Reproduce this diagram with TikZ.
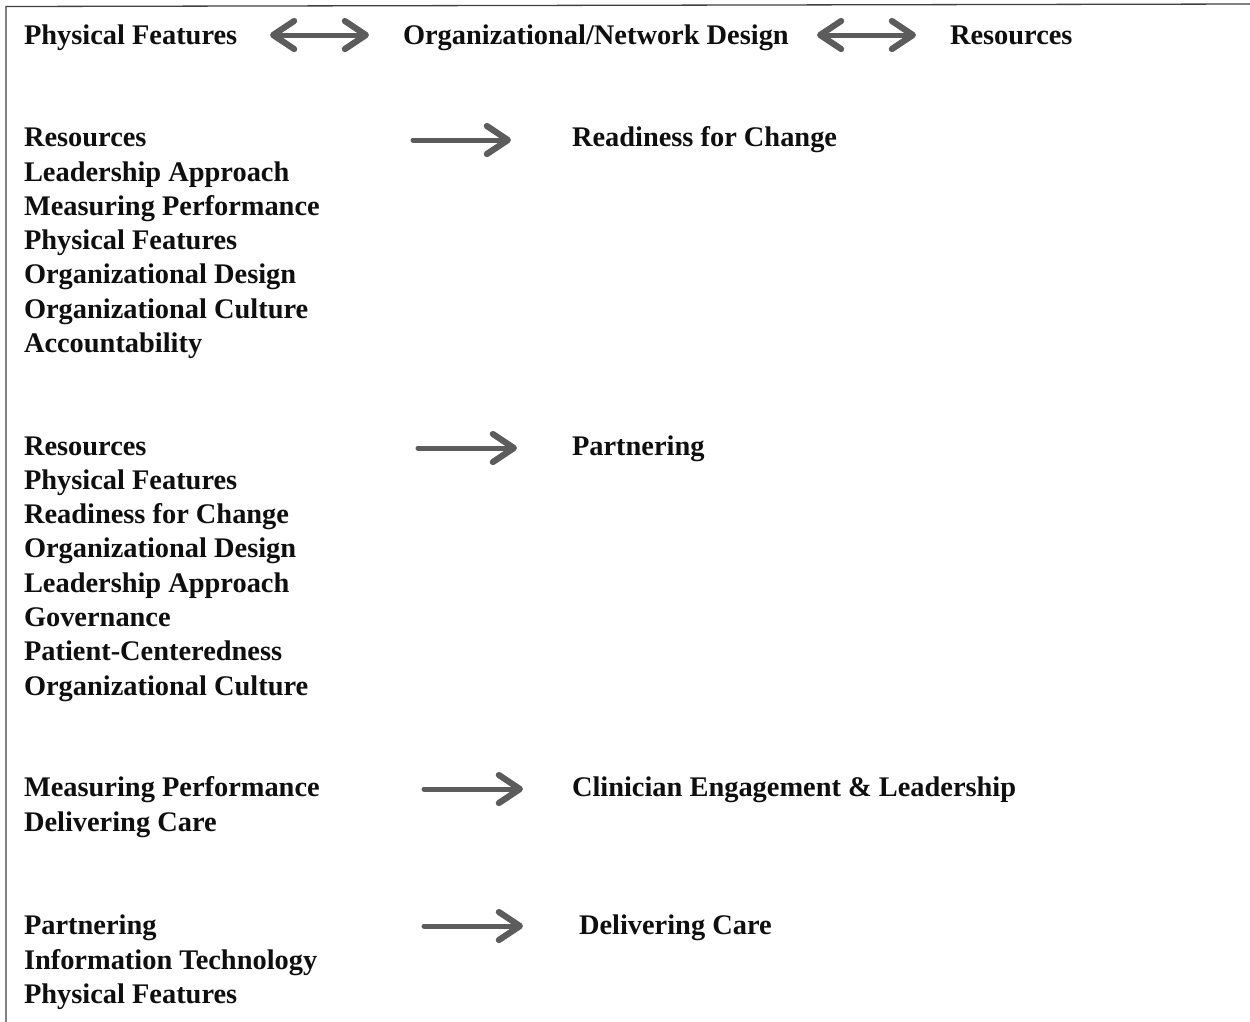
\documentclass[tikz,border=0pt]{standalone}
\usepackage{fontspec}
\setmainfont{Liberation Serif}
\usetikzlibrary{arrows.meta}
\tikzset{headtip/.tip={Straight Barb[length=21pt,width=28pt,line width=6.2pt,line cap=round,line join=round]}}
\begin{document}
\begin{tikzpicture}[x=1pt,y=-1pt,
  lbl/.style={anchor=base west, inner sep=0pt, outer sep=0pt,
    font=\fontsize{28.4}{34.3}\selectfont\bfseries, text=black!94},
  arr/.style={draw=black!64, line width=5pt, line cap=round, line join=round, -headtip},
  dblarr/.style={arr, headtip-headtip},
  frame/.style={draw=black!75, line width=1.3pt}]
\useasboundingbox (0,0) rectangle (1250,1021);
\fill[white] (0,0) rectangle (1250,1021);

% open frame: left edge and top edge
\draw[frame] (6,1025) -- (6,6.5) -- (1254,4);

% top row: mutually linked factors
\node[lbl] (tpf)  at (24,44.5)  {Physical Features};
\node[lbl] (tond) at (403,44.5) {Organizational/Network Design};
\node[lbl] (tres) at (950,44.5) {Resources};
\coordinate (d1a) at (270,35);
\coordinate (d1b) at (369,35);
\coordinate (d2a) at (817,35);
\coordinate (d2b) at (916,35);
\draw[dblarr] (d1a) -- (d1b);
\draw[dblarr] (d2a) -- (d2b);

% group 1 -> Readiness for Change
\foreach \t [count=\i from 0] in {Resources,Leadership Approach,Measuring Performance,Physical Features,Organizational Design,Organizational Culture,Accountability}
  \node[lbl] (ga\i) at (24,146.7+34.3*\i) {\t};
\node[lbl] (rfc) at (572,146.7) {Readiness for Change};
\coordinate (a1s) at (413,140);
\coordinate (a1e) at (511,140);
\draw[arr] (a1s) -- (a1e);

% group 2 -> Partnering
\foreach \t [count=\i from 0] in {Resources,Physical Features,Readiness for Change,Organizational Design,Leadership Approach,Governance,Patient-Centeredness,Organizational Culture}
  \node[lbl] (gb\i) at (24,455+34.3*\i) {\t};
\node[lbl] (prt) at (572,455) {Partnering};
\coordinate (a2s) at (418,448);
\coordinate (a2e) at (517,448);
\draw[arr] (a2s) -- (a2e);

% group 3 -> Clinician Engagement & Leadership
\foreach \t [count=\i from 0] in {Measuring Performance,Delivering Care}
  \node[lbl] (gc\i) at (24,796.7+34.3*\i) {\t};
\node[lbl] (cel) at (572,796.7) {Clinician Engagement \& Leadership};
\coordinate (a3s) at (424,789);
\coordinate (a3e) at (523,789);
\draw[arr] (a3s) -- (a3e);

% group 4 -> Delivering Care
\foreach \t [count=\i from 0] in {Partnering,Information Technology,Physical Features}
  \node[lbl] (gd\i) at (24,934.7+34.3*\i) {\t};
\node[lbl] (dcr) at (579,934.7) {Delivering Care};
\coordinate (a4s) at (424,926);
\coordinate (a4e) at (523,926);
\draw[arr] (a4s) -- (a4e);
\end{tikzpicture}
\end{document}
